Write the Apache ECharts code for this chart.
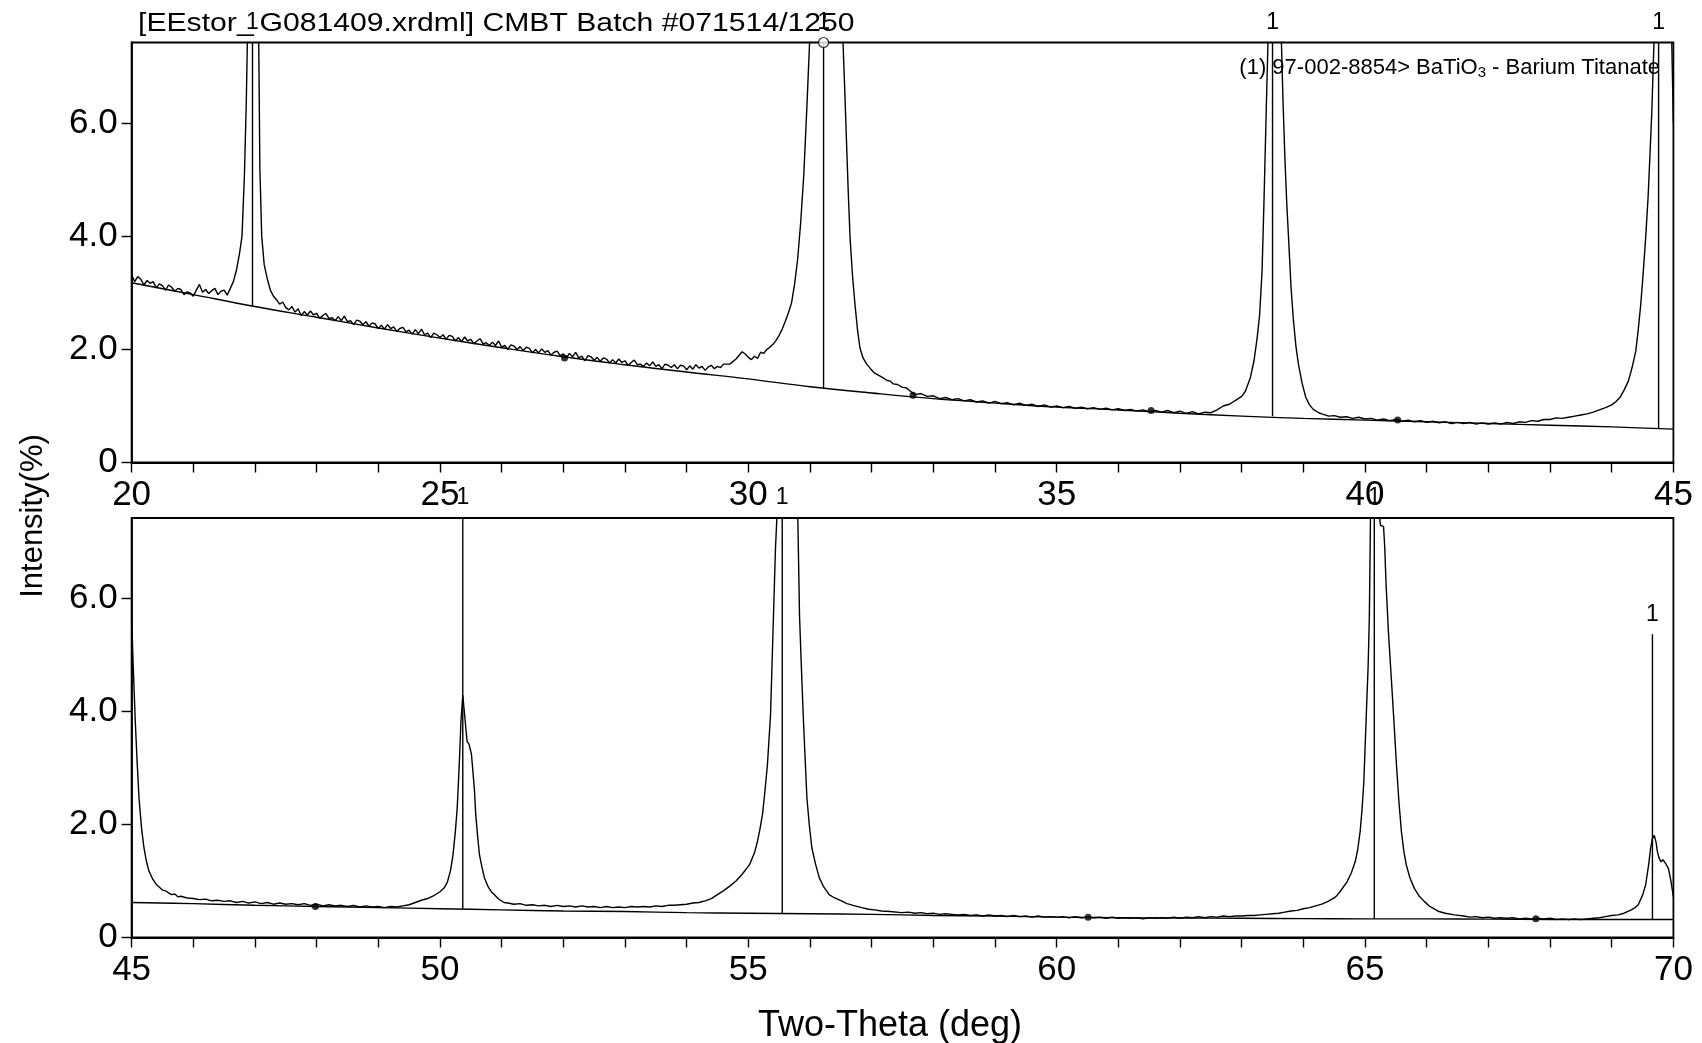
<!DOCTYPE html>
<html>
<head>
<meta charset="utf-8">
<script src="https://cdn.jsdelivr.net/npm/echarts@6/dist/echarts.min.js"></script>
<style>
html,body{margin:0;padding:0;background:#fff;}
#chart{width:1702px;height:1043px;}
</style>
</head>
<body>
<div id="chart"></div>
<script>
// ---------- DATA ----------
const titleParts = ['[EEstor_', 'G081409.xrdml] CMBT Batch #071514/1250'];
const legendText = ['(1) 97-002-8854> BaTiO', '3', ' - Barium Titanate'];
const yAxisName = 'Intensity(%)';
const xAxisName = 'Two-Theta (deg)';
const yTickValues = [0, 2, 4, 6];
const topXLabels = [20, 25, 30, 35, 40, 45];
const bottomXLabels = [45, 50, 55, 60, 65, 70];

// measured scan, 20-45 deg (two-theta, intensity %)
const topScan = [
[20.00,3.32],[20.05,3.20],[20.10,3.29],[20.15,3.24],[20.20,3.14],[20.25,3.22],[20.30,3.17],[20.35,3.20],[20.40,3.09],[20.45,3.16],
[20.50,3.13],[20.55,3.05],[20.60,3.14],[20.65,3.10],[20.70,3.03],[20.75,3.08],[20.80,3.06],[20.85,2.97],[20.90,3.02],[20.95,3.00],
[21.00,2.94],[21.05,3.05],[21.10,3.15],[21.15,3.01],[21.20,3.06],[21.25,2.99],[21.30,3.04],[21.35,3.08],[21.40,2.97],[21.45,3.03],
[21.50,3.05],[21.55,2.96],[21.60,3.08],[21.65,3.20],[21.70,3.40],[21.75,3.70],[21.79,4.00],[21.83,5.10],[21.86,6.40],[21.88,7.60],
[21.90,8.50],[21.97,9.50],[22.04,8.50],[22.06,7.60],[22.08,5.20],[22.11,4.00],[22.15,3.50],[22.20,3.25],[22.25,3.05],[22.30,2.94],
[22.35,2.88],[22.40,2.80],[22.45,2.84],[22.50,2.74],[22.55,2.70],[22.60,2.76],[22.65,2.66],[22.70,2.72],[22.75,2.60],
[22.80,2.67],[22.85,2.61],[22.90,2.68],[22.95,2.61],[23.00,2.64],[23.05,2.55],[23.10,2.60],[23.15,2.64],[23.20,2.55],[23.25,2.56],
[23.30,2.51],[23.35,2.58],[23.40,2.51],[23.45,2.59],[23.50,2.49],[23.55,2.51],[23.60,2.44],[23.65,2.52],[23.70,2.50],[23.75,2.44],
[23.80,2.49],[23.85,2.41],[23.90,2.47],[23.95,2.45],[24.00,2.37],[24.05,2.43],[24.10,2.36],[24.15,2.44],[24.20,2.37],[24.25,2.40],
[24.30,2.32],[24.35,2.37],[24.40,2.39],[24.45,2.31],[24.50,2.34],[24.55,2.27],[24.60,2.35],[24.65,2.28],[24.70,2.36],[24.75,2.26],
[24.80,2.29],[24.85,2.21],[24.90,2.29],[24.95,2.26],[25.00,2.21],[25.05,2.26],[25.10,2.18],[25.15,2.25],[25.20,2.23],[25.25,2.15],
[25.30,2.21],[25.35,2.14],[25.40,2.22],[25.45,2.15],[25.50,2.18],[25.55,2.10],[25.60,2.15],[25.65,2.19],[25.70,2.10],[25.75,2.12],
[25.80,2.07],[25.85,2.13],[25.90,2.07],[25.95,2.15],[26.00,2.04],[26.05,2.07],[26.10,2.00],[26.15,2.08],[26.20,2.06],[26.25,2.00],
[26.30,2.05],[26.35,1.98],[26.40,2.04],[26.45,2.02],[26.50,1.94],[26.55,2.00],[26.60,1.94],[26.65,2.01],[26.70,1.95],[26.75,1.98],
[26.80,1.90],[26.85,1.95],[26.90,1.97],[26.95,1.89],[27.00,1.92],[27.05,1.85],[27.10,1.93],[27.15,1.87],[27.20,1.95],[27.25,1.85],
[27.30,1.88],[27.35,1.80],[27.40,1.89],[27.45,1.87],[27.50,1.81],[27.55,1.86],[27.60,1.79],[27.65,1.85],[27.70,1.83],[27.75,1.76],
[27.80,1.82],[27.85,1.76],[27.90,1.83],[27.95,1.77],[28.00,1.80],[28.05,1.72],[28.10,1.77],[28.15,1.81],[28.20,1.73],[28.25,1.74],
[28.30,1.70],[28.35,1.76],[28.40,1.71],[28.45,1.78],[28.50,1.70],[28.55,1.73],[28.60,1.66],[28.65,1.74],[28.70,1.72],[28.75,1.68],
[28.80,1.73],[28.85,1.66],[28.90,1.72],[28.95,1.71],[29.00,1.64],[29.05,1.71],[29.10,1.65],[29.15,1.73],[29.20,1.67],[29.25,1.70],
[29.30,1.63],[29.35,1.69],[29.40,1.72],[29.45,1.66],[29.50,1.70],[29.55,1.68],[29.60,1.74],[29.70,1.74],[29.80,1.83],
[29.90,1.96],[29.95,1.92],[30.00,1.86],[30.05,1.82],[30.10,1.88],[30.15,1.84],[30.20,1.95],[30.25,1.93],[30.30,2.00],[30.35,2.04],
[30.40,2.09],[30.45,2.16],[30.50,2.25],[30.55,2.36],[30.60,2.50],[30.65,2.65],[30.70,2.82],[30.75,3.15],[30.80,3.60],[30.85,4.26],
[30.90,5.10],[30.95,6.30],[31.00,7.60],[31.10,9.00],[31.25,9.50],[31.40,9.00],[31.53,7.60],[31.56,6.70],[31.59,5.74],[31.62,4.80],
[31.65,3.97],[31.69,3.30],[31.73,2.79],[31.77,2.35],[31.81,2.03],[31.86,1.85],[31.92,1.74],[31.98,1.66],[32.05,1.58],[32.10,1.55],
[32.18,1.50],[32.25,1.45],[32.30,1.44],[32.35,1.39],[32.42,1.38],[32.50,1.33],[32.56,1.32],[32.62,1.27],[32.70,1.20],[32.80,1.22],
[32.90,1.17],[33.00,1.18],[33.10,1.13],[33.20,1.15],[33.30,1.11],[33.40,1.13],[33.50,1.09],[33.60,1.11],[33.70,1.07],[33.80,1.09],
[33.90,1.05],[34.00,1.08],[34.10,1.04],[34.20,1.06],[34.30,1.02],[34.40,1.05],[34.50,1.01],[34.60,1.03],[34.70,0.99],[34.80,1.02],
[34.90,0.98],[35.00,1.00],[35.10,0.97],[35.20,0.99],[35.30,0.96],[35.40,0.98],[35.50,0.95],[35.60,0.97],[35.70,0.94],[35.80,0.96],
[35.90,0.93],[36.00,0.95],[36.10,0.92],[36.20,0.94],[36.30,0.91],[36.40,0.93],[36.50,0.90],[36.60,0.92],[36.70,0.89],[36.80,0.92],
[36.90,0.88],[37.00,0.91],[37.10,0.87],[37.20,0.90],[37.30,0.86],[37.40,0.89],[37.50,0.88],[37.60,0.93],[37.70,1.00],[37.80,1.03],
[37.90,1.10],[38.00,1.17],[38.06,1.26],[38.14,1.50],[38.20,1.80],[38.25,2.20],[38.29,2.60],[38.33,3.38],[38.36,4.56],[38.40,6.32],
[38.43,7.60],[38.52,9.50],[38.64,7.60],[38.67,6.40],[38.70,5.40],[38.73,4.60],[38.76,3.97],[38.80,3.10],[38.84,2.50],[38.88,2.05],
[38.92,1.74],[38.98,1.40],[39.04,1.15],[39.10,1.02],[39.16,0.94],[39.25,0.88],[39.30,0.86],[39.41,0.82],[39.50,0.83],[39.60,0.80],
[39.70,0.81],[39.80,0.78],[39.90,0.80],[40.00,0.77],[40.10,0.78],[40.20,0.75],[40.30,0.77],[40.40,0.74],[40.50,0.76],[40.60,0.73],
[40.70,0.75],[40.80,0.72],[40.90,0.74],[41.00,0.71],[41.10,0.73],[41.20,0.70],[41.30,0.72],[41.40,0.69],[41.50,0.71],[41.60,0.69],
[41.70,0.71],[41.80,0.68],[41.90,0.70],[42.00,0.68],[42.10,0.70],[42.20,0.68],[42.30,0.71],[42.40,0.69],[42.50,0.72],[42.60,0.71],
[42.70,0.74],[42.80,0.73],[42.90,0.76],[43.00,0.76],[43.10,0.79],[43.20,0.78],[43.30,0.80],[43.40,0.82],[43.50,0.84],[43.60,0.86],
[43.70,0.89],[43.80,0.93],[43.90,0.97],[44.00,1.02],[44.07,1.08],[44.14,1.16],[44.20,1.28],[44.27,1.44],[44.33,1.68],[44.39,1.97],
[44.43,2.35],[44.47,2.79],[44.51,3.35],[44.55,3.97],[44.59,4.70],[44.62,5.44],[44.65,6.20],[44.67,6.91],[44.69,7.60],[44.78,9.50],
[44.90,9.00],[44.97,7.60],[45.00,6.00]
];

// measured scan, 45-70 deg
const bottomScan = [
[45.00,5.70],[45.02,5.00],[45.04,4.40],[45.06,3.82],[45.09,3.10],[45.12,2.47],[45.16,1.95],[45.20,1.59],[45.24,1.35],[45.28,1.18],
[45.34,1.04],[45.40,0.94],[45.46,0.88],[45.50,0.84],[45.56,0.82],[45.60,0.79],[45.65,0.76],[45.70,0.77],[45.75,0.72],[45.80,0.73],
[45.90,0.70],[46.00,0.69],[46.10,0.67],[46.20,0.68],[46.30,0.65],[46.40,0.66],[46.50,0.64],[46.60,0.65],[46.70,0.62],[46.80,0.64],
[46.90,0.61],[47.00,0.63],[47.10,0.60],[47.20,0.62],[47.30,0.59],[47.40,0.61],[47.50,0.59],[47.60,0.60],[47.70,0.58],[47.80,0.60],
[47.90,0.57],[48.00,0.59],[48.10,0.56],[48.20,0.58],[48.30,0.56],[48.40,0.57],[48.50,0.55],[48.60,0.57],[48.70,0.54],[48.80,0.56],
[48.90,0.54],[49.00,0.55],[49.10,0.53],[49.20,0.55],[49.30,0.54],[49.40,0.56],[49.50,0.58],[49.60,0.62],[49.70,0.66],[49.80,0.69],
[49.90,0.74],[50.00,0.81],[50.07,0.88],[50.12,0.98],[50.17,1.18],[50.21,1.45],[50.25,1.88],[50.28,2.30],[50.30,2.76],[50.32,3.25],
[50.34,3.82],[50.37,4.29],[50.40,3.94],[50.44,3.47],[50.47,3.43],[50.49,3.41],[50.51,3.25],[50.53,3.00],[50.56,2.60],[50.58,2.18],
[50.61,1.80],[50.64,1.47],[50.68,1.25],[50.72,1.06],[50.78,0.90],[50.84,0.80],[50.88,0.76],[50.95,0.68],[51.04,0.62],[51.10,0.61],
[51.20,0.59],[51.30,0.60],[51.40,0.57],[51.50,0.58],[51.60,0.56],[51.70,0.57],[51.80,0.55],[51.90,0.57],[52.00,0.55],[52.10,0.56],
[52.20,0.54],[52.30,0.56],[52.40,0.54],[52.50,0.55],[52.60,0.53],[52.70,0.55],[52.80,0.53],[52.90,0.54],[53.00,0.53],[53.10,0.55],
[53.20,0.54],[53.30,0.55],[53.40,0.54],[53.50,0.56],[53.60,0.55],[53.70,0.57],[53.80,0.57],[53.90,0.58],[54.00,0.59],[54.10,0.61],
[54.20,0.62],[54.30,0.65],[54.40,0.69],[54.50,0.76],[54.60,0.83],[54.70,0.91],[54.80,1.00],[54.90,1.12],[55.02,1.29],[55.10,1.50],
[55.15,1.71],[55.19,1.93],[55.23,2.18],[55.27,2.60],[55.31,3.06],[55.36,3.94],[55.40,5.41],[55.44,6.88],[55.47,7.60],[55.56,9.50],
[55.75,9.50],[55.80,7.60],[55.83,5.71],[55.86,4.80],[55.89,3.94],[55.92,3.20],[55.95,2.47],[55.99,1.98],[56.03,1.59],[56.09,1.30],
[56.15,1.06],[56.22,0.90],[56.31,0.76],[56.40,0.70],[56.51,0.65],[56.60,0.60],[56.70,0.57],[56.84,0.53],[56.95,0.50],[57.05,0.49],
[57.16,0.47],[57.30,0.46],[57.48,0.44],[57.60,0.45],[57.70,0.43],[57.80,0.44],[57.90,0.42],[58.00,0.43],[58.10,0.41],[58.20,0.42],
[58.30,0.41],[58.40,0.40],[58.50,0.41],[58.60,0.39],[58.70,0.40],[58.80,0.38],[58.90,0.40],[59.00,0.38],[59.10,0.39],[59.20,0.37],
[59.30,0.39],[59.40,0.37],[59.50,0.38],[59.60,0.36],[59.70,0.38],[59.80,0.36],[59.90,0.37],[60.00,0.36],[60.10,0.37],[60.20,0.35],
[60.30,0.37],[60.40,0.35],[60.50,0.36],[60.60,0.35],[60.70,0.36],[60.80,0.34],[60.90,0.36],[61.00,0.34],[61.10,0.35],[61.20,0.34],
[61.30,0.35],[61.40,0.33],[61.50,0.35],[61.60,0.34],[61.70,0.35],[61.80,0.34],[61.90,0.36],[62.00,0.34],[62.10,0.36],[62.20,0.35],
[62.30,0.37],[62.40,0.35],[62.50,0.37],[62.60,0.36],[62.70,0.38],[62.80,0.37],[62.90,0.38],[63.00,0.38],[63.10,0.39],[63.20,0.39],
[63.30,0.40],[63.40,0.41],[63.50,0.42],[63.60,0.43],[63.70,0.45],[63.80,0.47],[63.90,0.48],[64.00,0.51],[64.10,0.53],[64.20,0.56],
[64.30,0.59],[64.40,0.64],[64.50,0.70],[64.55,0.75],[64.62,0.85],[64.71,0.99],[64.78,1.15],[64.84,1.34],[64.88,1.55],[64.92,1.87],
[64.95,2.25],[64.98,2.75],[65.02,3.93],[65.05,4.80],[65.07,5.69],[65.09,7.60],[65.17,9.00],[65.22,7.60],[65.25,7.30],[65.28,7.32],
[65.30,7.28],[65.32,6.90],[65.34,6.28],[65.38,5.40],[65.43,4.52],[65.47,3.80],[65.51,3.05],[65.55,2.40],[65.59,1.87],[65.63,1.52],
[65.67,1.28],[65.73,1.05],[65.80,0.87],[65.88,0.73],[65.96,0.64],[66.05,0.55],[66.10,0.52],[66.20,0.46],[66.30,0.43],[66.45,0.40],
[66.60,0.38],[66.70,0.36],[66.80,0.37],[66.90,0.35],[67.00,0.36],[67.10,0.34],[67.20,0.35],[67.30,0.34],[67.40,0.35],[67.50,0.33],
[67.60,0.34],[67.70,0.33],[67.80,0.34],[67.90,0.33],[68.00,0.34],[68.10,0.32],[68.20,0.33],[68.30,0.32],[68.40,0.33],[68.50,0.32],
[68.60,0.33],[68.70,0.34],[68.80,0.35],[68.90,0.37],[69.00,0.39],[69.10,0.40],[69.20,0.43],[69.30,0.48],[69.38,0.53],[69.43,0.58],
[69.50,0.75],[69.55,0.93],[69.60,1.30],[69.63,1.58],[69.66,1.75],[69.69,1.81],[69.72,1.68],[69.74,1.52],[69.77,1.40],[69.80,1.34],
[69.83,1.38],[69.85,1.40],[69.88,1.30],[69.92,1.22],[69.96,1.00],[70.00,0.72]
];

// fitted background curves
const topBackground = [
[20,3.18],[21,2.97],[22,2.76],[23,2.57],[24,2.38],[25,2.20],[26,2.03],[27,1.87],[28,1.73],[29,1.60],[30,1.48],[31,1.34],[32,1.23],
[33,1.13],[34,1.05],[35,0.98],[36,0.93],[37,0.87],[38,0.82],[39,0.78],[40,0.75],[41,0.72],[42,0.69],[43,0.66],[44,0.63],[45,0.59]
];
const bottomBackground = [
[45,0.62],[46,0.60],[47,0.57],[48,0.55],[49,0.53],[50,0.51],[51,0.49],[52,0.47],[53,0.46],[54,0.44],[55,0.43],[56,0.42],[57,0.41],
[58,0.39],[59,0.38],[60,0.36],[61,0.35],[62,0.345],[63,0.34],[64,0.335],[65,0.33],[66,0.33],[67,0.325],[68,0.32],[69,0.32],[70,0.32]
];

// background anchor points
const topAnchors = [[27.02,1.85],[32.67,1.19],[36.53,0.92],[40.53,0.75]];
const bottomAnchors = [[47.98,0.55],[60.51,0.36],[67.77,0.33]];

// reference pattern (1) BaTiO3 sticks: position, base, top
const topStickPos = [21.96, 31.22, 38.50, 44.76];
const topStickBase = [2.76, 1.31, 0.82, 0.61];
const topStickTop = [7.43, 7.43, 7.43, 7.43];
const bottomStickPos = [50.37, 55.55, 65.15, 69.66];
const bottomStickBase = [0.51, 0.43, 0.33, 0.32];
const bottomStickTop = [7.43, 7.43, 7.43, 5.37];
const stickLabel = '1';
const cursorMark = [[31.22, 7.43]];

// ---------- CHART ----------
const FONT = '"Liberation Sans", Arial, Helvetica, sans-serif';
const chart = echarts.init(document.getElementById('chart'), null, {renderer: 'canvas'});

function sticks(pos, base, top) { return pos.map((p, i) => [p, base[i], top[i]]); }

function stickRender(params, api) {
  const x = api.value(0), b = api.value(1), t = api.value(2);
  const p0 = api.coord([x, b]), p1 = api.coord([x, t]);
  return {
    type: 'group',
    children: [
      {type: 'line', shape: {x1: p0[0], y1: p0[1], x2: p1[0], y2: p1[1]}, style: {stroke: '#000', lineWidth: 1.4}},
      {type: 'text', style: {text: stickLabel, x: p1[0], y: p1[1] - 20, align: 'center', verticalAlign: 'middle',
        font: '23px ' + FONT, fill: '#000'}}
    ]
  };
}

function xAxisCfg(idx, min, max) {
  return {
    type: 'value', gridIndex: idx, min: min, max: max, interval: 1,
    axisLine: {show: true, lineStyle: {color: '#000', width: 1.8}},
    axisTick: {show: true, inside: false, length: 10, lineStyle: {color: '#000', width: 1.4}},
    axisLabel: {show: true, margin: 15, color: '#000', fontSize: 35, fontFamily: FONT,
      formatter: v => (Math.round(v) % 5 === 0 ? String(Math.round(v)) : '')},
    splitLine: {show: false}
  };
}
function yAxisCfg(idx) {
  return {
    type: 'value', gridIndex: idx, min: 0, max: 7.43, interval: 2,
    axisLine: {show: true, lineStyle: {color: '#000', width: 1.8}},
    axisTick: {show: true, length: 10, lineStyle: {color: '#000', width: 1.4}, customValues: yTickValues},
    axisLabel: {show: true, margin: 14, color: '#000', fontSize: 35, fontFamily: FONT, customValues: yTickValues,
      formatter: v => (v === 0 ? '0' : (v > 7 ? '' : v.toFixed(1)))},
    splitLine: {show: false}
  };
}

const option = {
  animation: false,
  backgroundColor: '#fff',
  grid: [
    {left: 131.6, top: 42.5, width: 1541.8, height: 420, show: true, borderColor: '#000', borderWidth: 1.8, backgroundColor: 'transparent'},
    {left: 131.6, top: 518, width: 1541.8, height: 419.5, show: true, borderColor: '#000', borderWidth: 1.8, backgroundColor: 'transparent'}
  ],
  xAxis: [xAxisCfg(0, 20, 45), xAxisCfg(1, 45, 70)],
  yAxis: [yAxisCfg(0), yAxisCfg(1)],
  series: [
    {type: 'line', xAxisIndex: 0, yAxisIndex: 0, data: topScan, showSymbol: false, clip: true,
      lineStyle: {color: '#000', width: 1.4}},
    {type: 'line', xAxisIndex: 1, yAxisIndex: 1, data: bottomScan, showSymbol: false, clip: true,
      lineStyle: {color: '#000', width: 1.4}},
    {type: 'line', xAxisIndex: 0, yAxisIndex: 0, data: topBackground, showSymbol: false, smooth: 0.4,
      lineStyle: {color: '#000', width: 1.4}},
    {type: 'line', xAxisIndex: 1, yAxisIndex: 1, data: bottomBackground, showSymbol: false, smooth: 0.4,
      lineStyle: {color: '#000', width: 1.4}},
    {type: 'custom', xAxisIndex: 0, yAxisIndex: 0, data: sticks(topStickPos, topStickBase, topStickTop),
      encode: {x: 0, y: [1, 2]}, renderItem: stickRender, clip: false, z: 5},
    {type: 'custom', xAxisIndex: 1, yAxisIndex: 1, data: sticks(bottomStickPos, bottomStickBase, bottomStickTop),
      encode: {x: 0, y: [1, 2]}, renderItem: stickRender, clip: false, z: 5},
    {type: 'scatter', xAxisIndex: 0, yAxisIndex: 0, data: topAnchors, symbolSize: 7, itemStyle: {color: '#000'}},
    {type: 'scatter', xAxisIndex: 1, yAxisIndex: 1, data: bottomAnchors, symbolSize: 7, itemStyle: {color: '#000'}},
    {type: 'scatter', xAxisIndex: 0, yAxisIndex: 0, data: cursorMark, symbol: 'circle', symbolSize: 10, clip: false, z: 6,
      itemStyle: {color: '#fff', borderColor: '#000', borderWidth: 1.2}}
  ],
  graphic: [
    {type: 'text', left: 138, top: 11, z: 10, scaleX: 1.16, originX: 0, originY: 0,
      style: {text: '{a|' + titleParts[0] + '}{b|' + titleParts[1] + '}', fill: '#000', font: '26px ' + FONT,
        rich: {a: {fontSize: 26, fontFamily: FONT, color: '#000'},
               b: {fontSize: 26, fontFamily: FONT, color: '#000', padding: [0, 0, 0, 5]}}}},
    {type: 'text', right: 42, top: 55, z: 10,
      style: {text: '{n|' + legendText[0] + '}{s|' + legendText[1] + '}{n|' + legendText[2] + '}', fill: '#000',
        rich: {n: {fontSize: 22, fontFamily: FONT, color: '#000', lineHeight: 24},
               s: {fontSize: 15, fontFamily: FONT, color: '#000', lineHeight: 24, padding: [10, 0, 0, 0]}}}},
    {type: 'text', x: 33, y: 516, rotation: Math.PI / 2, z: 10,
      style: {text: yAxisName, font: '31px ' + FONT, fill: '#000', align: 'center', verticalAlign: 'middle'}},
    {type: 'text', x: 890, y: 1026, z: 10,
      style: {text: xAxisName, font: '36px ' + FONT, fill: '#000', align: 'center', verticalAlign: 'middle'}}
  ]
};
chart.setOption(option);
</script>
</body>
</html>
